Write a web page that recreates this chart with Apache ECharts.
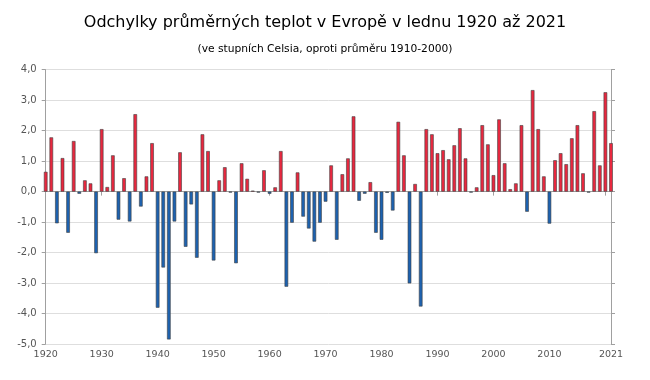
<!DOCTYPE html>
<html>
<head>
<meta charset="utf-8">
<script src="https://cdn.jsdelivr.net/npm/echarts@6/dist/echarts.min.js"></script>
<style>html,body{margin:0;padding:0;background:#fff}#c{width:650px;height:380px}</style>
</head>
<body>
<div id="c"></div>
<script>
const years = [];
for (let y = 1920; y <= 2021; y++) years.push(y);
const anomalies = [
  0.65, 1.78, -1.04, 1.10, -1.35, 1.66, -0.07, 0.37, 0.27, -2.02,
  2.05, 0.15, 1.19, -0.92, 0.44, -0.98, 2.54, -0.49, 0.50, 1.59,
  -3.81, -2.49, -4.85, -0.98, 1.29, -1.81, -0.42, -2.17, 1.88, 1.33,
  -2.26, 0.37, 0.80, -0.03, -2.35, 0.93, 0.42, 0.03, -0.03, 0.70,
  -0.07, 0.14, 1.33, -3.12, -1.02, 0.63, -0.82, -1.21, -1.64, -1.02,
  -0.33, 0.86, -1.58, 0.57, 1.09, 2.47, -0.30, -0.07, 0.31, -1.35,
  -1.58, -0.04, -0.62, 2.29, 1.19, -3.01, 0.25, -3.77, 2.05, 1.88,
  1.26, 1.36, 1.06, 1.52, 2.08, 1.09, -0.03, 0.14, 2.18, 1.55,
  0.54, 2.37, 0.93, 0.08, 0.27, 2.18, -0.66, 3.33, 2.05, 0.50,
  -1.05, 1.03, 1.26, 0.90, 1.75, 2.18, 0.60, -0.03, 2.64, 0.86,
  3.26, 1.59
];
const yTicks = [-5, -4, -3, -2, -1, 0, 1, 2, 3, 4];
const titleText = 'Odchylky průměrných teplot v Evropě v lednu 1920 až 2021';
const subtitleText = '(ve stupních Celsia, oproti průměru 1910-2000)';

const RED = '#e8283f', BLUE = '#1d62b0', EDGE = '#404040';
const font = 'DejaVu Sans';

const chart = echarts.init(document.getElementById('c'), null, {renderer: 'canvas'});
chart.setOption({
  backgroundColor: '#fff',
  animation: false,
  title: [
    {text: titleText, left: 'center', top: 10, textStyle: {fontFamily: font, fontSize: 16, fontWeight: 'normal', color: '#000'}},
    {text: subtitleText, left: 'center', top: 39, textStyle: {fontFamily: font, fontSize: 10.7, fontWeight: 'normal', color: '#000'}}
  ],
  grid: {left: 45.7, right: 39, top: 69.7, bottom: 36, containLabel: false},
  xAxis: {
    type: 'value', min: 1920, max: 2021, interval: 10,
    axisLine: {show: true, lineStyle: {color: '#a0a0a0', width: 1}},
    axisTick: {show: true, length: 4, lineStyle: {color: '#a0a0a0'}},
    splitLine: {show: false},
    axisLabel: {
      fontFamily: font, fontSize: 9.5, color: '#555', margin: 6,
      showMaxLabel: true, showMinLabel: true,
      formatter: v => (v === 2020 ? '' : String(v))
    }
  },
  yAxis: [
    {
      type: 'value', min: yTicks[0], max: yTicks[yTicks.length - 1], interval: 1,
      axisLine: {show: true, lineStyle: {color: '#a0a0a0'}},
      axisTick: {show: true, length: 4, lineStyle: {color: '#a0a0a0'}},
      splitLine: {show: true, lineStyle: {color: '#dedede', width: 1}},
      axisLabel: {fontFamily: font, fontSize: 10, color: '#555', margin: 9,
        formatter: v => v.toFixed(1).replace('.', ',')}
    },
    {
      type: 'value', position: 'right', min: yTicks[0], max: yTicks[yTicks.length - 1], interval: 1,
      axisLine: {show: true, lineStyle: {color: '#a0a0a0'}},
      axisTick: {show: true, length: 4, lineStyle: {color: '#a0a0a0'}},
      splitLine: {show: false},
      axisLabel: {show: false}
    }
  ],
  series: [{
    type: 'bar',
    barWidth: 3.6,
    data: years.map((y, i) => ({
      value: [y, anomalies[i]],
      itemStyle: {color: anomalies[i] >= 0 ? RED : BLUE, borderColor: EDGE, borderWidth: 0.6}
    }))
  }]
});
</script>
</body>
</html>
